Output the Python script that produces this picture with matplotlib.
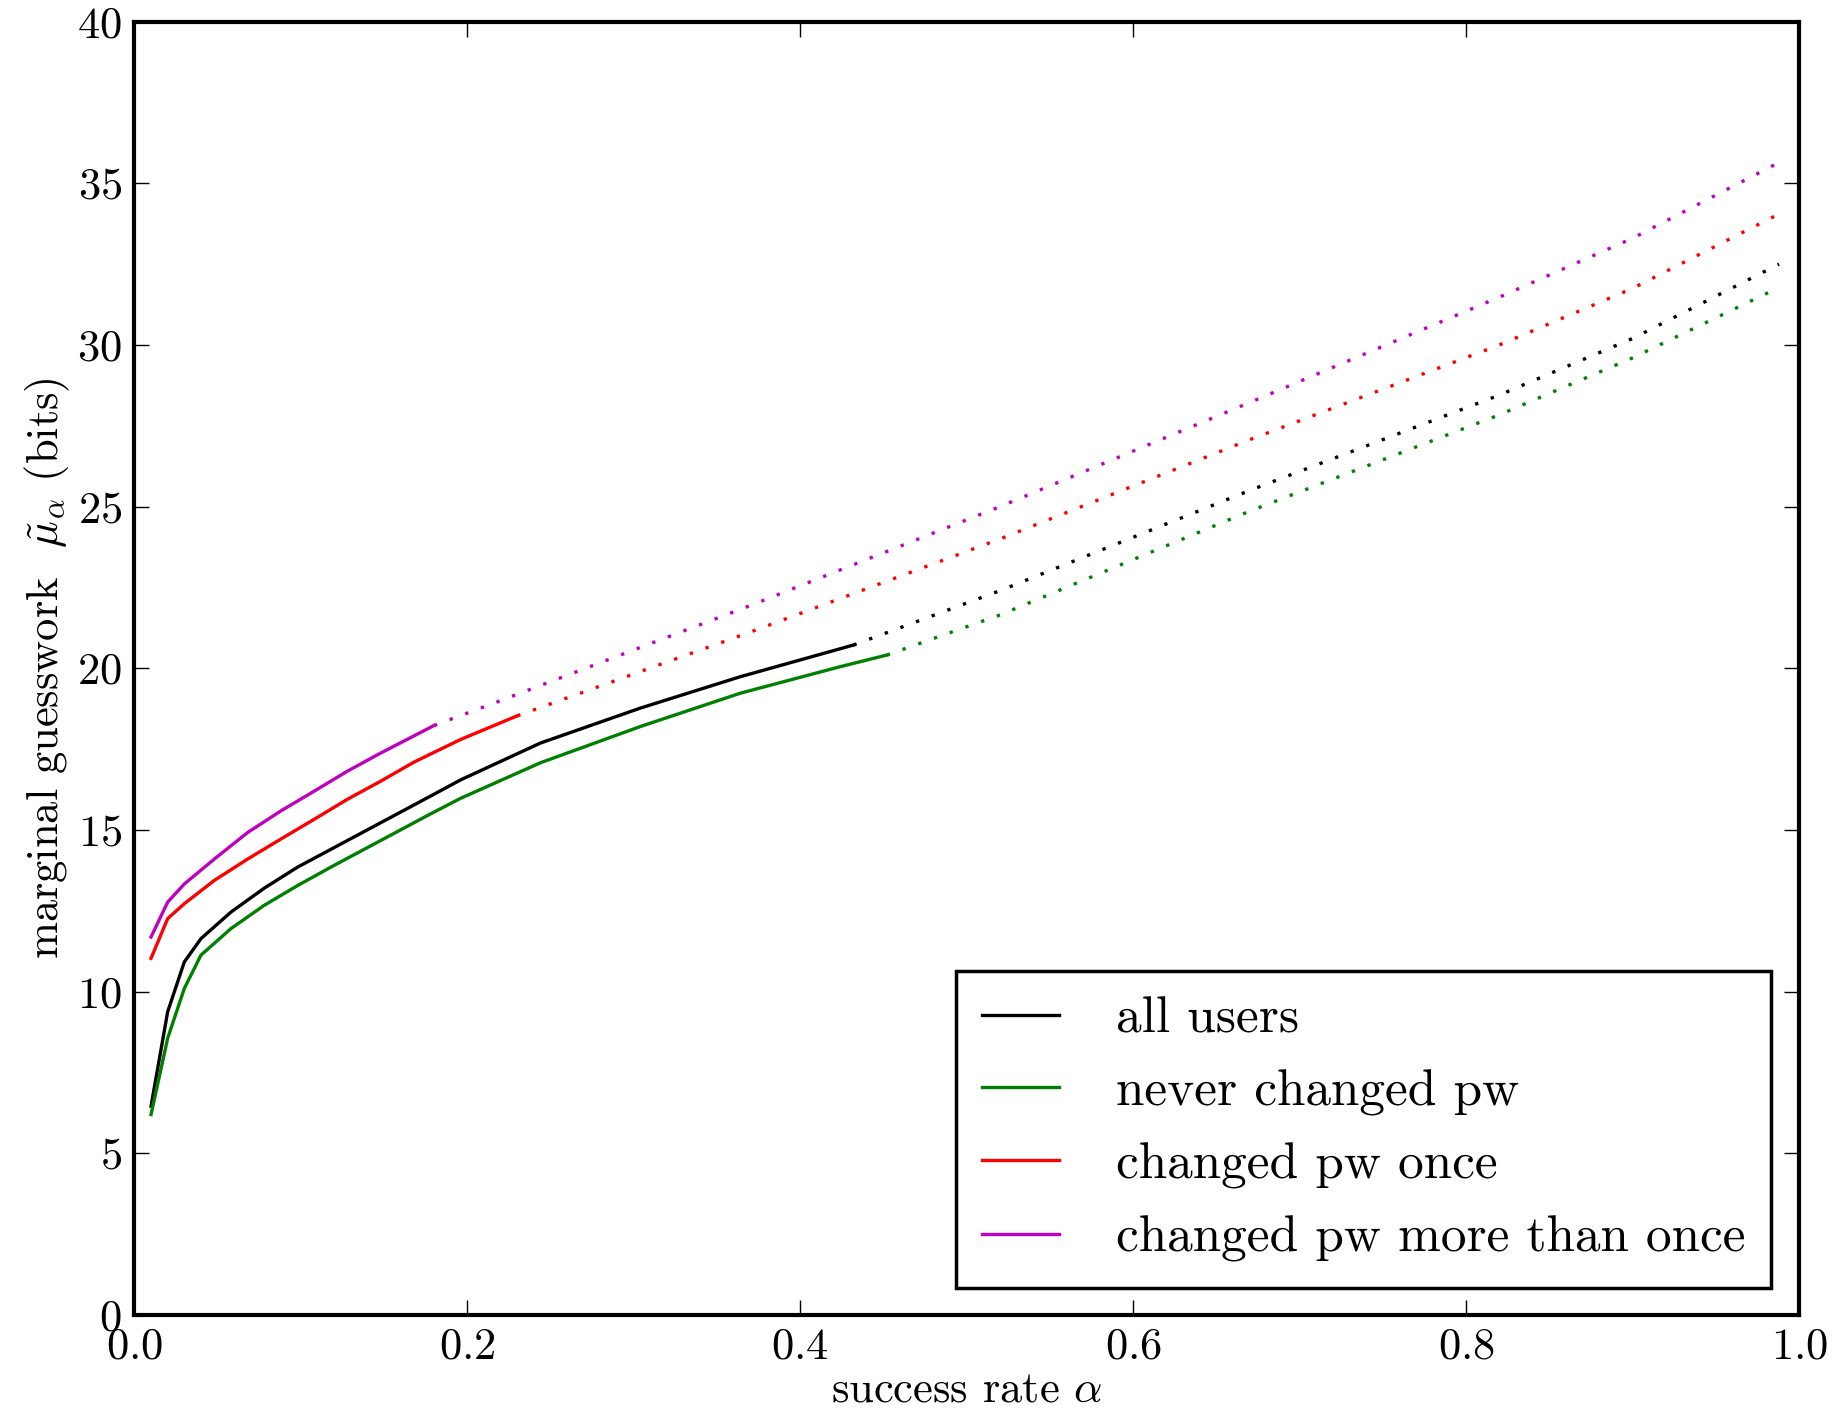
import matplotlib
matplotlib.use("Agg")
import matplotlib.pyplot as plt

plt.rcParams["font.family"] = "serif"
plt.rcParams["font.serif"] = ["cmr10", "DejaVu Serif"]
plt.rcParams["mathtext.fontset"] = "cm"
plt.rcParams["axes.formatter.use_mathtext"] = True

# success rate alpha / guesswork (bits), measured part (solid)
all_x = [0.01, 0.02, 0.03, 0.04, 0.058, 0.078, 0.098, 0.118, 0.138, 0.158,
         0.178, 0.196, 0.244, 0.304, 0.364, 0.432]
all_y = [6.46, 9.38, 10.92, 11.64, 12.46, 13.2, 13.85, 14.4, 14.95, 15.5,
         16.05, 16.55, 17.69, 18.77, 19.74, 20.72]
never_x = [0.01, 0.02, 0.03, 0.04, 0.058, 0.078, 0.098, 0.118, 0.138, 0.158,
           0.178, 0.196, 0.244, 0.304, 0.364, 0.424, 0.452]
never_y = [6.2, 8.56, 10.1, 11.13, 11.95, 12.67, 13.28, 13.85, 14.4, 14.95,
           15.5, 15.98, 17.08, 18.2, 19.23, 20.05, 20.41]
once_x = [0.01, 0.02, 0.03, 0.048, 0.068, 0.088, 0.108, 0.128, 0.148, 0.168,
          0.184, 0.196, 0.23]
once_y = [11.03, 12.26, 12.72, 13.44, 14.1, 14.72, 15.33, 15.95, 16.51, 17.1,
          17.5, 17.8, 18.53]
more_x = [0.01, 0.02, 0.03, 0.048, 0.068, 0.088, 0.108, 0.128, 0.148, 0.18]
more_y = [11.69, 12.77, 13.33, 14.1, 14.92, 15.59, 16.2, 16.82, 17.38, 18.23]

# extrapolated part (dotted)
all_ex = [0.432, 0.52, 0.67, 0.82, 0.9, 0.988]
all_ey = [20.72, 22.4, 25.5, 28.45, 30.2, 32.5]
never_ex = [0.452, 0.52, 0.67, 0.82, 0.9, 0.984]
never_ey = [20.41, 21.65, 24.86, 27.84, 29.6, 31.68]
once_ex = [0.23, 0.37, 0.52, 0.67, 0.82, 0.9, 0.986]
once_ey = [18.53, 21.12, 24.0, 27.07, 30.0, 31.75, 34.0]
more_ex = [0.18, 0.22, 0.37, 0.52, 0.67, 0.82, 0.9, 0.989]
more_ey = [18.23, 19.0, 21.94, 25.0, 28.22, 31.48, 33.3, 35.67]

labels = ["all users", "never changed pw", "changed pw once",
          "changed pw more than once"]
colors = ["k", "#008000", "#ff0000", "#bf00bf"]

series = [
    (all_x, all_y, all_ex, all_ey),
    (never_x, never_y, never_ex, never_ey),
    (once_x, once_y, once_ex, once_ey),
    (more_x, more_y, more_ex, more_ey),
]

fig = plt.figure(figsize=(18.41, 14.12), dpi=100)
ax = fig.add_axes([0.073, 0.0687, 0.9042, 0.916])

for (sx, sy, ex, ey), lab, col in zip(series, labels, colors):
    ax.plot(sx, sy, color=col, lw=2.4, label=lab)
    ax.plot(ex, ey, color=col, lw=2.4, linestyle=(0, (1, 4)))

ax.set_xlim(0, 1)
ax.set_ylim(0, 40)
ax.set_xticks([0.0, 0.2, 0.4, 0.6, 0.8, 1.0])
ax.set_yticks(range(0, 41, 5))
ax.tick_params(direction="in", length=11, width=1, top=True, right=True,
               labelsize=32, pad=9)
for s in ax.spines.values():
    s.set_linewidth(3)

ax.set_xlabel(r"success rate $\alpha$", fontsize=32, labelpad=2)
ax.set_ylabel(r"marginal guesswork  $\tilde{\mu}_\alpha$ (bits)", fontsize=32,
              labelpad=4)

leg = ax.legend(loc="lower right", fontsize=37, handlelength=1.5,
                handletextpad=1.1, borderpad=0.5, labelspacing=0.52,
                borderaxespad=0, fancybox=False, edgecolor="k", framealpha=1,
                bbox_to_anchor=(0.983, 0.021))
leg.get_frame().set_linewidth(2.5)

fig.savefig("out.png", dpi=100)
